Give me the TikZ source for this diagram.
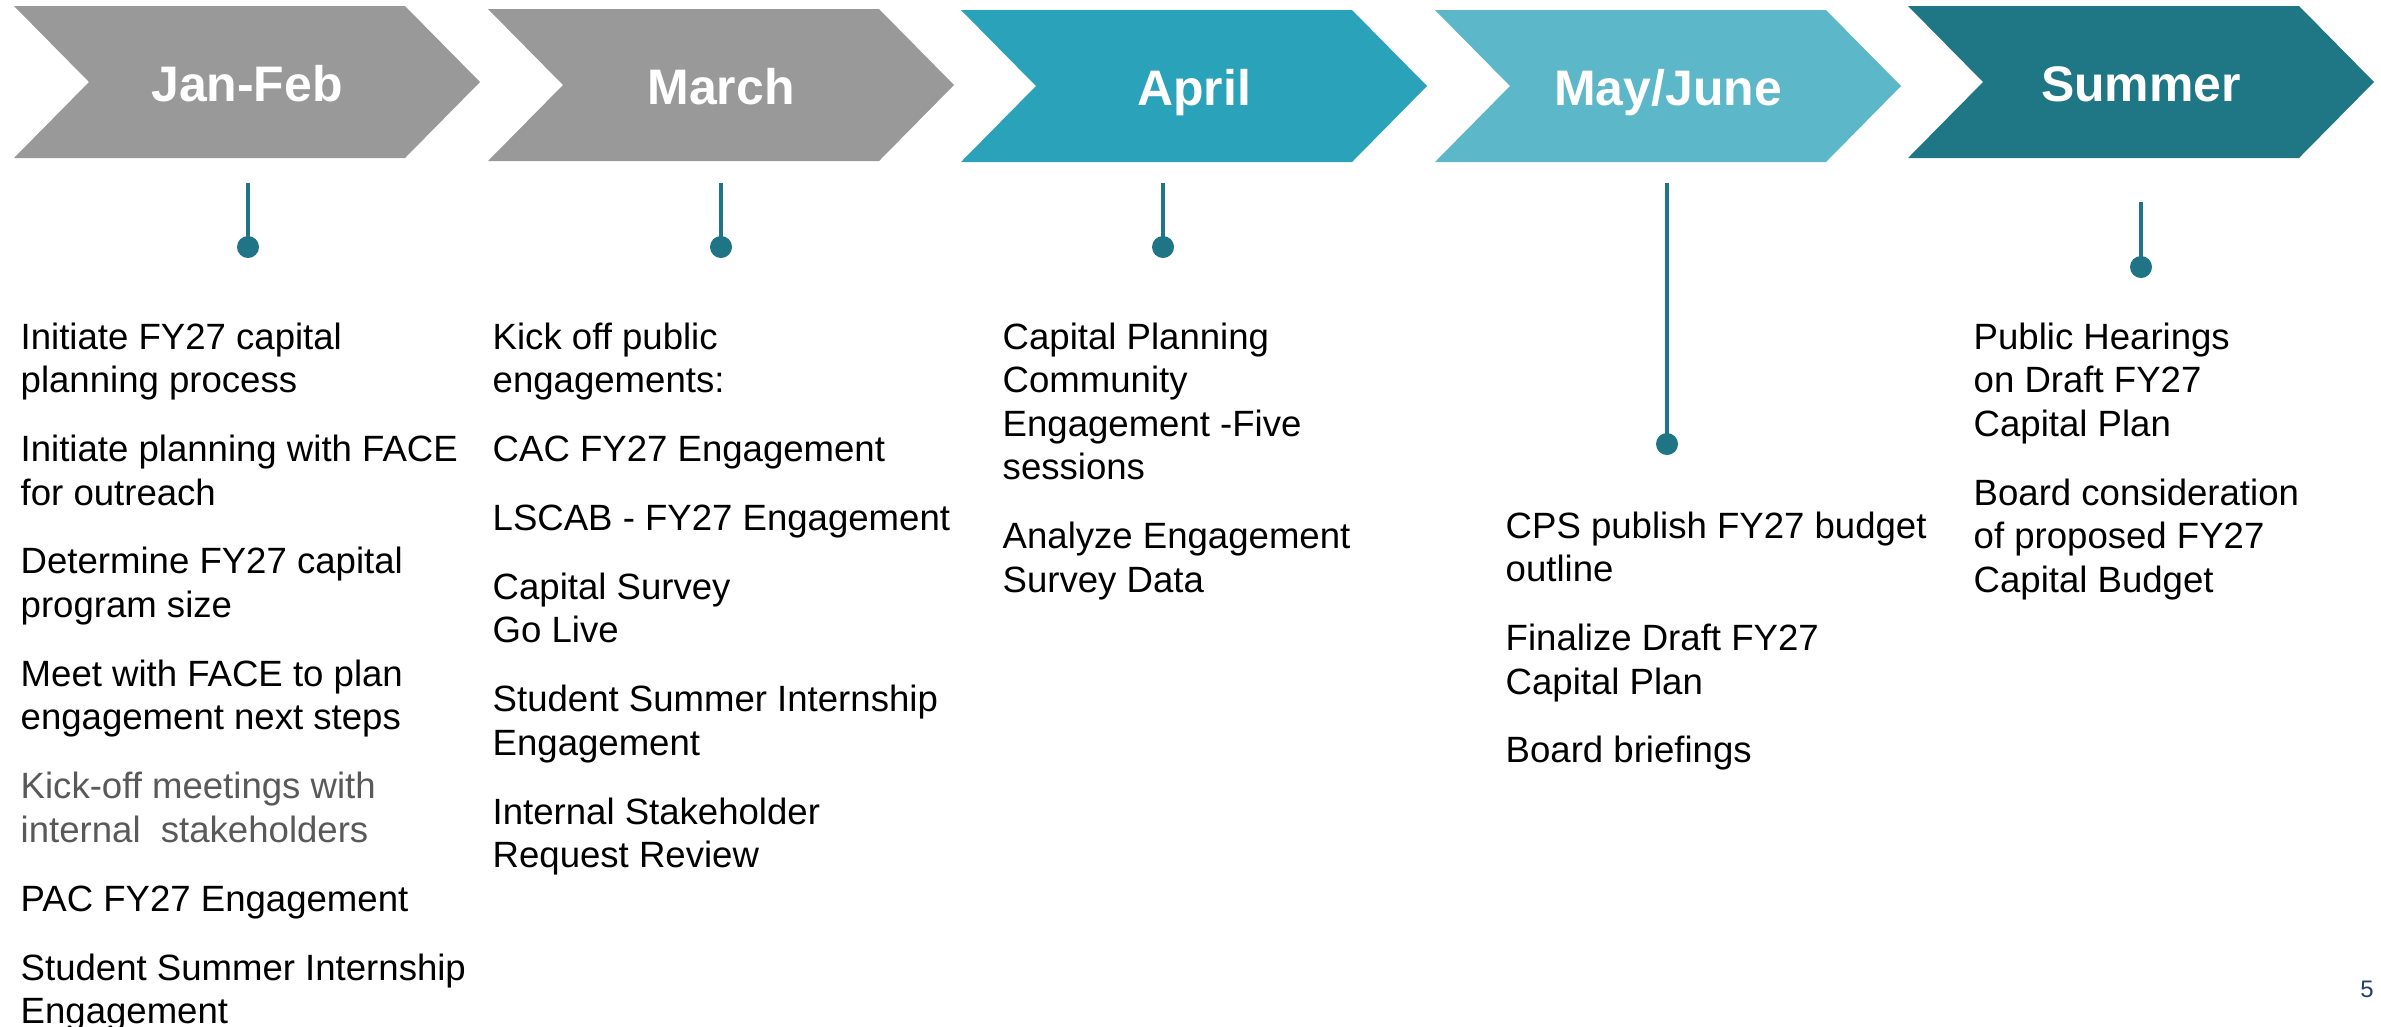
\documentclass[tikz,border=0pt]{standalone}
\usepackage{fontspec}
\setmainfont{Liberation Sans}

\definecolor{chevgray}{HTML}{999999}
\definecolor{aprilteal}{HTML}{29A2BA}
\definecolor{mayteal}{HTML}{5CB7C8}
\definecolor{summerteal}{HTML}{1F7785}
\definecolor{stemteal}{HTML}{1F7585}
\definecolor{softgray}{HTML}{595959}
\definecolor{pagenavy}{HTML}{1F3B73}

\tikzset{
  month/.style={text=white, anchor=base, inner sep=0pt,
    font=\fontsize{14.2pt}{17pt}\selectfont\bfseries},
  tasks/.style={anchor=north west, inner sep=0pt, align=left,
    font=\fontsize{10.4pt}{12.38pt}\selectfont},
  stem/.style={draw=stemteal, line width=1.15pt},
  pin/.style={circle, fill=stemteal, inner sep=0pt, minimum size=0.22cm},
}

\begin{document}
\begin{tikzpicture}[x=0.01cm,y=-0.01cm] % pixel-style grid, y downwards
  \def\gap{7.2pt}
  \useasboundingbox (0,0) rectangle (2381,1026);

  % month chevrons
  \foreach \i/\l/\t/\c/\m in {1/14/6/chevgray/Jan-Feb, 2/488/9/chevgray/March,
      3/961/10/aprilteal/April, 4/1435/10/mayteal/{May/June}, 5/1908/6/summerteal/Summer}{
    \fill[\c] (\l,\t) -- ++(391,0) -- ++(75,76) -- ++(-75,76) -- ++(-391,0) -- ++(75,-76) -- cycle;
    \node[month] (hd\i) at (\l+233,\t+95) {\m};
  }

  % pins under each month
  \foreach \i/\x/\top/\y in {1/248/183/247, 2/721/183/247, 3/1163/183/247,
      4/1667/183/444, 5/2141/202/267}{
    \coordinate (top\i) at (\x,\top);
    \node[pin] (dot\i) at (\x,\y) {};
    \draw[stem] (top\i) -- (dot\i.center);
  }

  % task lists
  \node[tasks] (jan) at (20,318) {\strut Initiate FY27 capital\\planning process\\[\gap]
    Initiate planning with FACE\\for outreach\\[\gap]
    Determine FY27 capital\\program size\\[\gap]
    Meet with FACE to plan\\engagement next steps\\[\gap]
    \textcolor{softgray}{Kick-off meetings with}\\\textcolor{softgray}{internal\ \ stakeholders}\\[\gap]
    PAC FY27 Engagement\\[\gap]
    Student Summer Internship\\Engagement};
  \node[tasks] (mar) at (492,318) {\strut Kick off public\\engagements:\\[\gap]
    CAC FY27 Engagement\\[\gap]
    LSCAB - FY27 Engagement\\[\gap]
    Capital Survey\\Go Live\\[\gap]
    Student Summer Internship\\Engagement\\[\gap]
    Internal Stakeholder\\Request Review};
  \node[tasks] (apr) at (1002,318) {\strut Capital Planning\\Community\\Engagement -Five\\sessions\\[\gap]
    Analyze Engagement\\Survey Data};
  \node[tasks] (may) at (1505,507) {\strut CPS publish FY27 budget\\outline\\[\gap]
    Finalize Draft FY27\\Capital Plan\\[\gap]
    Board briefings};
  \node[tasks] (sum) at (1973,318) {\strut Public Hearings\\on Draft FY27\\Capital Plan\\[\gap]
    Board consideration\\of proposed FY27\\Capital Budget};

  \node[text=pagenavy, font=\fontsize{6.8pt}{8pt}\selectfont] (page) at (2367,989) {5};
\end{tikzpicture}
\end{document}
